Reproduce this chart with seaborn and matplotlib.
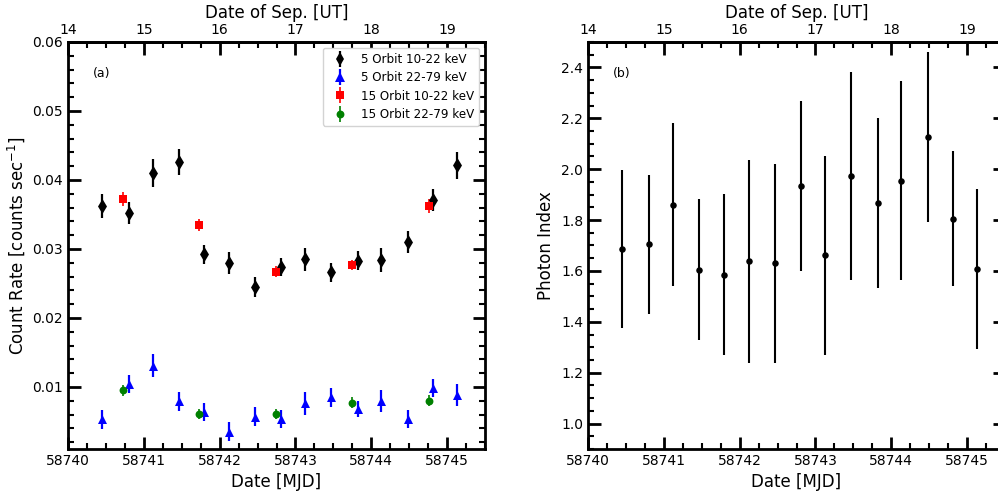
import numpy as np
import seaborn as sns
import matplotlib.pyplot as plt
import matplotlib.ticker as mticker
from matplotlib.lines import Line2D

# observation times (MJD)
mjd_5orb = [58740.45, 58740.80, 58741.12, 58741.46, 58741.80, 58742.12, 58742.47, 58742.81,
            58743.12, 58743.47, 58743.82, 58744.13, 58744.48, 58744.82, 58745.13]
mjd_15orb = [58740.73, 58741.73, 58742.74, 58743.75, 58744.76]

# count rates
rate_5_soft = [0.0362, 0.0352, 0.0410, 0.0426, 0.0292, 0.0279, 0.0245, 0.0274,
               0.0285, 0.0266, 0.0283, 0.0284, 0.0310, 0.0371, 0.0421]
err_5_soft = [0.0017, 0.0016, 0.0020, 0.0019, 0.0014, 0.0016, 0.0014, 0.0013,
              0.0017, 0.0014, 0.0014, 0.0017, 0.0016, 0.0016, 0.0020]
rate_5_hard = [0.0053, 0.0104, 0.0131, 0.0079, 0.0064, 0.0035, 0.0057, 0.0053,
               0.0076, 0.0085, 0.0068, 0.0080, 0.0053, 0.0098, 0.0088]
err_5_hard = [0.0014, 0.0013, 0.0016, 0.0014, 0.0013, 0.0014, 0.0014, 0.0013,
              0.0016, 0.0014, 0.0012, 0.0016, 0.0013, 0.0013, 0.0016]
rate_15_soft = [0.0372, 0.0335, 0.0267, 0.0277, 0.0362]
err_15_soft = [0.0010, 0.0009, 0.0008, 0.0007, 0.0010]
rate_15_hard = [0.0095, 0.0061, 0.0061, 0.0077, 0.0080]
err_15_hard = [0.0008, 0.0007, 0.0007, 0.0008, 0.0008]

# photon index
gamma = [1.687, 1.704, 1.860, 1.605, 1.585, 1.638, 1.630, 1.935,
         1.661, 1.973, 1.868, 1.955, 2.127, 1.806, 1.608]
gamma_err = [0.31, 0.275, 0.32, 0.277, 0.316, 0.40, 0.39, 0.335,
             0.39, 0.41, 0.335, 0.39, 0.333, 0.264, 0.316]

series = [
    (mjd_5orb, rate_5_soft, err_5_soft, "black", "d", 58, 1.6, "5 Orbit 10-22 keV"),
    (mjd_5orb, rate_5_hard, err_5_hard, "blue", "^", 42, 1.6, "5 Orbit 22-79 keV"),
    (mjd_15orb, rate_15_soft, err_15_soft, "red", "s", 40, 1.2, "15 Orbit 10-22 keV"),
    (mjd_15orb, rate_15_hard, err_15_hard, "green", "o", 32, 1.2, "15 Orbit 22-79 keV"),
]

sns.set_style("ticks", {"axes.edgecolor": "black", "xtick.color": "black",
                        "ytick.color": "black", "text.color": "black",
                        "axes.labelcolor": "black"})
plt.rcParams["font.family"] = ["DejaVu Sans"]


def style_axis(ax):
    for sp in ax.spines.values():
        sp.set_linewidth(2)
    ax.set_xlim(58740, 58745.5)
    ax.xaxis.set_major_locator(mticker.MultipleLocator(1))
    ax.xaxis.set_minor_locator(mticker.MultipleLocator(0.25))
    ax.xaxis.set_major_formatter(mticker.FormatStrFormatter("%d"))
    ax.tick_params(which="major", direction="in", length=9, width=2,
                   top=False, right=True, labelsize=10)
    ax.tick_params(which="minor", direction="in", length=4.5, width=1.5,
                   top=False, right=True)
    sec = ax.secondary_xaxis("top", functions=(lambda x: x - 58726, lambda d: d + 58726))
    sec.set_xticks([14, 15, 16, 17, 18, 19])
    sec.xaxis.set_minor_locator(mticker.MultipleLocator(0.25))
    sec.tick_params(which="major", direction="in", length=9, width=2, labelsize=10)
    sec.tick_params(which="minor", direction="in", length=4.5, width=1.5)
    sec.spines["top"].set_linewidth(2)
    sec.set_xlabel("Date of Sep. [UT]", fontsize=12)
    ax.set_xlabel("Date [MJD]", fontsize=12)


fig = plt.figure(figsize=(9.98, 4.91), dpi=100)
ax1 = fig.add_axes([68 / 998, 42 / 491, 417 / 998, 407 / 491])
ax2 = fig.add_axes([588 / 998, 42 / 491, 417 / 998, 407 / 491])

handles = []
for x, y, e, c, m, s, lw, lab in series:
    ax1.errorbar(x, y, yerr=e, fmt="none", ecolor=c, elinewidth=lw, capsize=0, zorder=2)
    sns.scatterplot(x=x, y=y, marker=m, color=c, s=s, linewidth=0, ax=ax1,
                    legend=False, zorder=3)
    handles.append(((Line2D([], [], marker=m, color=c, linestyle="None",
                             markersize=np.sqrt(s), markeredgewidth=0),
                      Line2D([], [], marker="|", color=c, linestyle="None",
                             markersize=11, markeredgewidth=lw)), lab))

style_axis(ax1)
ax1.set_ylim(0.001, 0.06)
ax1.yaxis.set_major_locator(mticker.MultipleLocator(0.01))
ax1.yaxis.set_minor_locator(mticker.MultipleLocator(0.002))
ax1.yaxis.set_major_formatter(mticker.FormatStrFormatter("%.2f"))
ax1.set_ylabel("Count Rate [counts sec$^{-1}$]", fontsize=12)
ax1.text(0.06, 0.915, "(a)", transform=ax1.transAxes, fontsize=9)
ax1.legend([h for h, _ in handles], [l for _, l in handles], loc="upper right",
           fontsize=8.6, frameon=True, edgecolor="lightgray", framealpha=1,
           borderaxespad=0.5, labelspacing=0.45)

ax2.errorbar(mjd_5orb, gamma, yerr=gamma_err, fmt="none", ecolor="black",
             elinewidth=1.5, capsize=0, zorder=2)
sns.scatterplot(x=mjd_5orb, y=gamma, marker="o", color="black", s=22, linewidth=0,
                ax=ax2, legend=False, zorder=3)
style_axis(ax2)
ax2.set_ylim(0.9, 2.5)
ax2.yaxis.set_major_locator(mticker.MultipleLocator(0.2))
ax2.yaxis.set_minor_locator(mticker.MultipleLocator(0.05))
ax2.yaxis.set_major_formatter(mticker.FormatStrFormatter("%.1f"))
ax2.set_ylabel("Photon Index", fontsize=12)
ax2.text(0.06, 0.915, "(b)", transform=ax2.transAxes, fontsize=9)

fig.savefig("out.png", dpi=100)
